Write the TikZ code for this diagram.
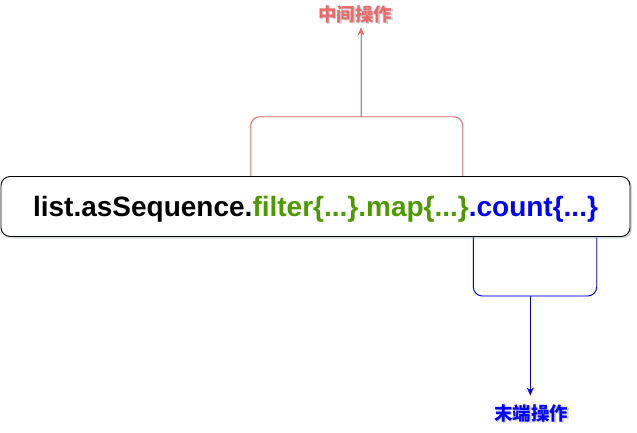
\documentclass[tikz,border=0pt]{standalone}
\usepackage{fontspec}
\setmainfont{Liberation Sans}
\newfontfamily\cjk{Noto Sans CJK SC}
\usetikzlibrary{shadows,arrows.meta}
\definecolor{opred}{HTML}{EA6B66}
\definecolor{opgreen}{HTML}{4D9900}
\definecolor{opblue}{HTML}{0000FF}
\definecolor{shade}{HTML}{8A93B0}
\tikzset{
  chainbox/.style={draw=black, line width=0.9pt, rounded corners=9pt, fill=white,
    minimum width=629pt, minimum height=60pt, inner sep=0pt,
    drop shadow={shadow xshift=2pt, shadow yshift=-2pt, opacity=0.35, fill=shade}},
  bracket/.style={line width=0.9pt, rounded corners=9pt},
  shadowline/.style={draw=shade, line width=1.2pt, opacity=0.3, xshift=1.5pt, yshift=-1.5pt},
  tip/.style={-{Stealth[length=8pt,width=7pt]}},
  oplabel/.style={font=\cjk\bfseries\fontsize{18.5}{18.5}\selectfont, inner sep=0pt},
  labelshadow/.style={oplabel, text=shade, opacity=0.45}
}
\begin{document}
\begin{tikzpicture}[x=1pt,y=-1pt]
\useasboundingbox (0,0) rectangle (637,432);
% coordinates
\coordinate (r1) at (250.7,178);
\coordinate (r2) at (250.7,116.7);
\coordinate (r3) at (462.7,116.7);
\coordinate (r4) at (462.7,176);
\coordinate (rm) at (361,116.7);
\coordinate (rt) at (361,27.5);
\coordinate (b1) at (473.3,237);
\coordinate (b2) at (473.3,296);
\coordinate (b3) at (596.7,296);
\coordinate (b4) at (596.7,237);
\coordinate (bm) at (530.3,296);
\coordinate (bt) at (530.3,395.5);
% labels
\node[labelshadow] at (356.5,15.5) {中间操作};
\node[oplabel, text=opred] (mid) at (355,14) {中间操作};
\node[labelshadow] at (532.5,414.5) {末端操作};
\node[oplabel, text=opblue] (term) at (531,413) {末端操作};
% red bracket
\draw[shadowline, rounded corners=9pt] (r1) -- (r2) -- (r3) -- (r4);
\draw[shadowline] (rm) -- (rt);
\draw[bracket, opred] (r1) -- (r2) -- (r3) -- (r4);
\draw[opred, line width=0.9pt, tip] (rm) -- (rt);
% blue bracket
\draw[shadowline, rounded corners=9pt] (b1) -- (b2) -- (b3) -- (b4);
\draw[shadowline] (bm) -- (bt);
\draw[bracket, opblue] (b1) -- (b2) -- (b3) -- (b4);
\draw[opblue, line width=0.9pt, tip] (bm) -- (bt);
% main box
\node[chainbox] (box) at (315.5,206.5) {};
\node[font=\bfseries\fontsize{28}{28}\selectfont, inner sep=0pt, anchor=base] (code) at (315.5,216.5)
  {list.asSequence.\textcolor{opgreen}{filter\{...\}.map\{...\}}\textcolor{opblue}{.count\{...\}}};
\end{tikzpicture}
\end{document}
